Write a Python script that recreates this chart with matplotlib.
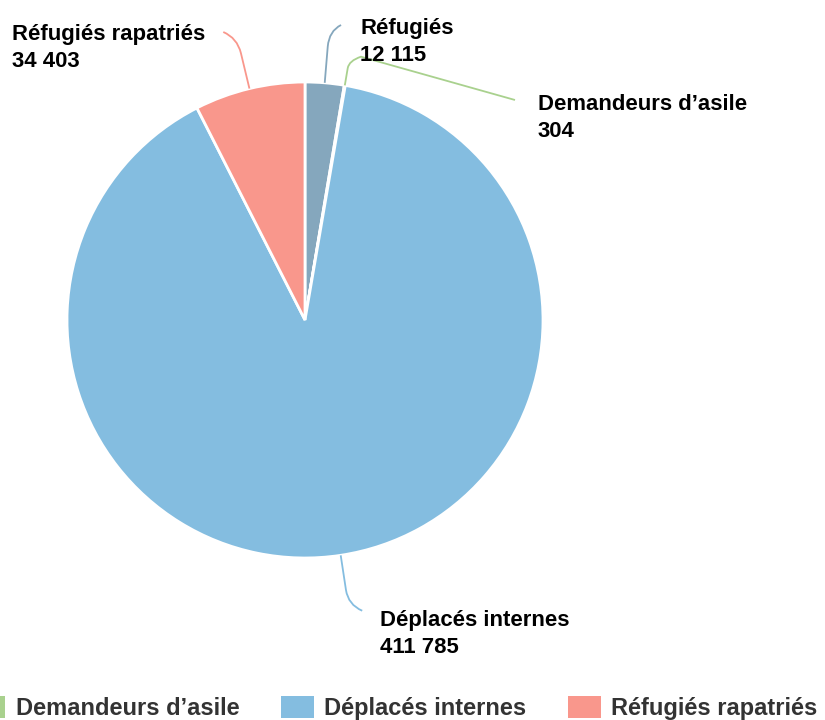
import numpy as np
import matplotlib.pyplot as plt
from matplotlib.path import Path
from matplotlib.patches import PathPatch, Patch

plt.rcParams['font.family'] = ['Liberation Sans', 'DejaVu Sans']

categories = ['Réfugiés', "Demandeurs d\u2019asile", 'Déplacés internes', 'Réfugiés rapatriés']
values = [12115, 304, 411785, 34403]
value_labels = ['12 115', '304', '411 785', '34 403']
colors = ['#85a7bd', '#a9d18e', '#84bde0', '#f9978c']

W, H = 825, 720
fig = plt.figure(figsize=(W / 100, H / 100), dpi=100)
ax = fig.add_axes([0, 0, 1, 1])
ax.set_xlim(0, W)
ax.set_ylim(H, 0)
ax.set_aspect('equal')
ax.axis('off')

cx, cy, r = 305, 320, 238

# y axis is flipped: counterclockwise in data = clockwise on screen
wedges, _ = ax.pie(values, colors=colors, center=(cx, cy), radius=r,
                   startangle=-90, counterclock=True,
                   wedgeprops=dict(edgecolor='white', linewidth=2))
ax.set_xlim(0, W)
ax.set_ylim(H, 0)

# leader line layout
layout = [
    dict(ext=52, dx=12, dy=-6, tail=None, lab=(360, 18), ha='left'),
    dict(ext=25, dx=12, dy=-4, tail=(515, 100), lab=(538, 94), ha='left'),
    dict(ext=50, dx=14, dy=6, tail=None, lab=(380, 610), ha='left'),
    dict(ext=52, dx=-14, dy=-6, tail=None, lab=(12, 24), ha='left'),
]

fracs = np.array(values) / np.sum(values)
starts = np.concatenate([[0], np.cumsum(fracs)[:-1]])
for i, (cat, lab, col) in enumerate(zip(categories, value_labels, colors)):
    mid = (starts[i] + fracs[i] / 2) * 2 * np.pi
    sx, sy = cx + r * np.sin(mid), cy - r * np.cos(mid)
    L = layout[i]
    ex, ey = cx + (r + L['ext']) * np.sin(mid), cy - (r + L['ext']) * np.cos(mid)
    kx, ky = cx + (r + L['ext'] * 0.7) * np.sin(mid), cy - (r + L['ext'] * 0.7) * np.cos(mid)
    verts = [(sx, sy), (kx, ky), (ex, ey), (ex + L['dx'], ey + L['dy'])]
    codes = [Path.MOVETO, Path.LINETO, Path.CURVE3, Path.CURVE3]
    if L['tail'] is not None:
        verts.append(L['tail'])
        codes.append(Path.LINETO)
    ax.add_patch(PathPatch(Path(verts, codes), facecolor='none', edgecolor=col, lw=1.3))
    ax.text(L['lab'][0], L['lab'][1], f'{cat}\n{lab}', ha=L['ha'], va='top',
            fontsize=15.9, fontweight='bold', color='black', linespacing=1.36)

handles = [Patch(facecolor=c, edgecolor='none') for c in colors[1:]]
leg = fig.legend(handles, categories[1:], loc='lower left', ncol=3,
                 bbox_to_anchor=(-28 / W, 0), frameon=False,
                 prop=dict(size=17, weight='bold'),
                 handlelength=1.4, handleheight=1.06, handletextpad=0.45,
                 columnspacing=1.75, borderaxespad=0, borderpad=0)
for t in leg.get_texts():
    t.set_color('#333333')

fig.savefig('out.png', dpi=100)
